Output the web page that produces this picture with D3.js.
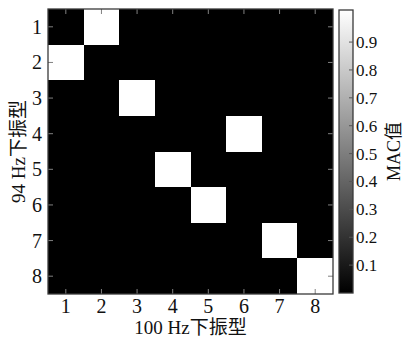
<!DOCTYPE html>
<html><head><meta charset="utf-8">
<script src="https://cdn.jsdelivr.net/npm/d3@7"></script>
<style>body{margin:0;background:#fff}svg{display:block}</style>
</head><body>
<svg id="c" width="406" height="340"></svg>
<script>
const rowLabels = ["1","2","3","4","5","6","7","8"];   // 94 Hz modes
const colLabels = ["1","2","3","4","5","6","7","8"];   // 100 Hz modes
const macValues = [
  [0.00,1.00,0.00,0.00,0.00,0.00,0.00,0.00],
  [1.00,0.00,0.00,0.00,0.00,0.00,0.00,0.00],
  [0.00,0.00,1.00,0.00,0.00,0.00,0.00,0.00],
  [0.00,0.00,0.00,0.00,0.00,1.00,0.00,0.00],
  [0.00,0.00,0.00,1.00,0.00,0.00,0.00,0.00],
  [0.00,0.00,0.00,0.00,1.00,0.00,0.00,0.00],
  [0.00,0.00,0.00,0.00,0.00,0.00,1.00,0.00],
  [0.00,0.00,0.00,0.00,0.00,0.00,0.00,1.00]
];
const colorbarTicks = [0.1,0.2,0.3,0.4,0.5,0.6,0.7,0.8,0.9];
const colorbarLimits = [0, 1.015];
const xTitle = "100 Hz下振型";
const yTitle = "94 Hz下振型";
const cbTitle = "MAC值";

const svg = d3.select("#c");
const font = "'Liberation Serif','Noto Sans CJK SC',serif";
const L = 48, R = 333, T = 9, B = 294;
const x = d3.scaleBand().domain(colLabels).range([L, R]);
const y = d3.scaleBand().domain(rowLabels).range([T, B]);
const color = d3.scaleLinear().domain([0, 1]).range(["#000","#fff"]).clamp(true);

svg.append("rect").attr("x", L).attr("y", T).attr("width", R-L).attr("height", B-T).attr("fill", color(0));
const cells = [];
macValues.forEach((row, i) => row.forEach((v, j) => cells.push({r: rowLabels[i], c: colLabels[j], v})));
svg.append("g").attr("shape-rendering", "crispEdges").selectAll("rect").data(cells).join("rect")
  .attr("x", d => x(d.c)).attr("y", d => y(d.r))
  .attr("width", x.bandwidth()).attr("height", y.bandwidth())
  .attr("fill", d => color(d.v));

const tickColor = "#808080";
const tl = 5;
const tickG = svg.append("g").attr("stroke", tickColor).attr("stroke-width", 1);
colLabels.forEach(c => {
  const cx = x(c) + x.bandwidth()/2;
  tickG.append("line").attr("x1", cx).attr("x2", cx).attr("y1", B).attr("y2", B - tl);
  tickG.append("line").attr("x1", cx).attr("x2", cx).attr("y1", T).attr("y2", T + tl);
});
rowLabels.forEach(r => {
  const cy = y(r) + y.bandwidth()/2;
  tickG.append("line").attr("y1", cy).attr("y2", cy).attr("x1", L).attr("x2", L + tl);
  tickG.append("line").attr("y1", cy).attr("y2", cy).attr("x1", R).attr("x2", R - tl);
});
svg.append("rect").attr("x", L).attr("y", T).attr("width", R-L).attr("height", B-T)
  .attr("fill", "none").attr("stroke", "#3a3a3a").attr("stroke-width", 1.3);

svg.append("g").selectAll("text").data(colLabels).join("text")
  .attr("x", d => x(d) + x.bandwidth()/2).attr("y", 313)
  .attr("text-anchor", "middle").attr("font-family", font).attr("font-size", 20)
  .attr("fill", "#111").text(d => d);
svg.append("g").selectAll("text").data(rowLabels).join("text")
  .attr("x", 42).attr("y", d => y(d) + y.bandwidth()/2)
  .attr("dy", "0.35em")
  .attr("text-anchor", "end").attr("font-family", font).attr("font-size", 20)
  .attr("fill", "#111").text(d => d);

svg.append("text").attr("x", (L+R)/2).attr("y", 334).attr("text-anchor", "middle")
  .attr("font-family", font).attr("font-size", 19).attr("fill", "#111").text(xTitle);
svg.append("text").attr("transform", `translate(18,${(T+B)/2}) rotate(-90)`)
  .attr("text-anchor", "middle").attr("dy", "0.35em").attr("font-family", font).attr("font-size", 19)
  .attr("fill", "#111").text(yTitle);

// colorbar
const cbL = 339, cbW = 14;
const cy = d3.scaleLinear().domain(colorbarLimits).range([B - 1, T + 1]);
const defs = svg.append("defs");
const grad = defs.append("linearGradient").attr("id", "g").attr("x1", 0).attr("y1", 1).attr("x2", 0).attr("y2", 0);
grad.append("stop").attr("offset", 0).attr("stop-color", color(0));
grad.append("stop").attr("offset", 1).attr("stop-color", color(1));
svg.append("rect").attr("x", cbL).attr("y", T + 1).attr("width", cbW).attr("height", B - T - 2)
  .attr("fill", "url(#g)").attr("stroke", "#3a3a3a").attr("stroke-width", 1.3);
const cbG = svg.append("g");
colorbarTicks.forEach(t => {
  cbG.append("line").attr("x1", cbL+cbW).attr("x2", cbL+cbW-4).attr("y1", cy(t)).attr("y2", cy(t))
    .attr("stroke", "#555");
  cbG.append("text").attr("x", cbL+cbW+3).attr("y", cy(t)).attr("dy", "0.35em")
    .attr("font-family", font).attr("font-size", 17).attr("fill", "#111").text(t.toFixed(1));
});
svg.append("text").attr("transform", `translate(394,${(T+B)/2}) rotate(-90)`)
  .attr("text-anchor", "middle").attr("dy", "0.35em").attr("font-family", font).attr("font-size", 18)
  .attr("fill", "#111").text(cbTitle);
</script>
</body></html>
